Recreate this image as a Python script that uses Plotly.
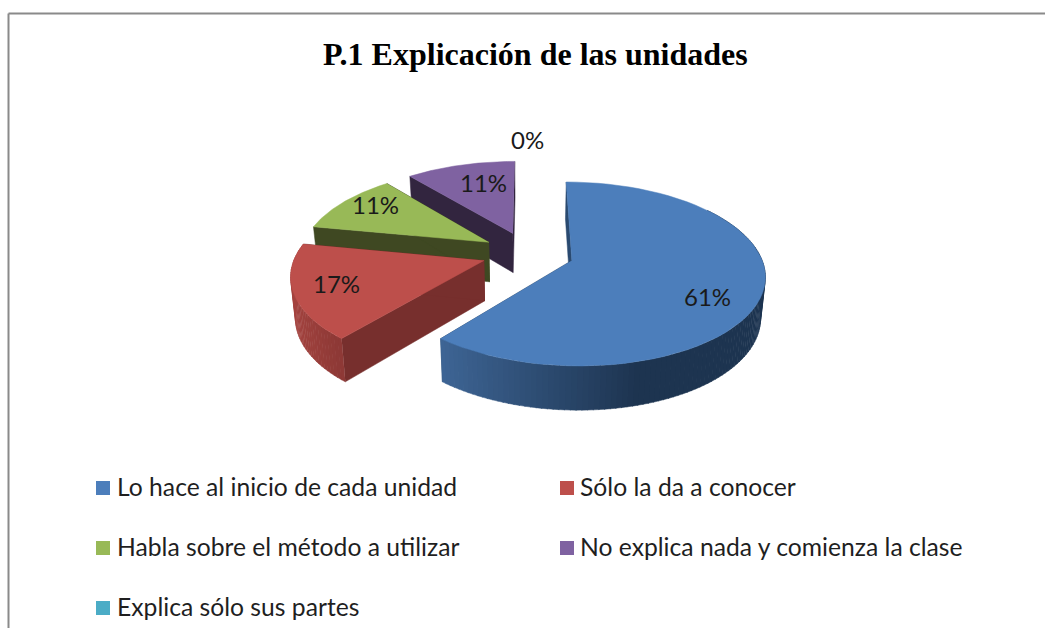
import math
import plotly.graph_objects as go

# ---- data ----
categories = ["Lo hace al inicio de cada unidad", "Sólo la da a conocer",
              "Habla sobre el método a utilizar", "No explica nada y comienza la clase",
              "Explica sólo sus partes"]
percent = [61, 17, 11, 11, 0]
title_text = "P.1 Explicación de las unidades"

# ---- styles ----
top_colors = ["#4c7ebb", "#bd4f4b", "#98b957", "#7f62a1", "#4bacc6"]
cut_colors = ["#2a4a70", "#772f2d", "#3f4822", "#32253f", "#2a6a7c"]

# ---- 3-D projection of the pie plane into the pixel-sized axes ----
CX, CY, RX, RY, K = 528.0, 253.0, 188.0, 87.8, 0.146
EXPLODE, DEPTH, SHRINK = 0.245, 40.0, 0.98


def project(u, v, low=False):
    d = 1 + K * v
    x = CX + RX * u / d
    y = CY - RY * v / d
    if low:
        x = CX + (x - CX) * SHRINK
        y = y + DEPTH / (1 + 0.6 * K * v)
    return x, y


def point(theta_deg, r, mid_deg, low=False):
    t, m = math.radians(theta_deg), math.radians(mid_deg)
    u = r * math.sin(t) + EXPLODE * math.sin(m)
    v = r * math.cos(t) + EXPLODE * math.cos(m)
    return project(u, v, low)


def polygon(fig, pts, color):
    fig.add_trace(go.Scatter(x=[p[0] for p in pts], y=[p[1] for p in pts], mode="lines",
                             fill="toself", fillcolor=color, line=dict(color=color, width=0.5),
                             hoverinfo="skip", showlegend=False))


def mix(a, b, f):
    f = max(0.0, min(1.0, f))
    return "rgb(%d,%d,%d)" % tuple(round(a[i] + (b[i] - a[i]) * f) for i in range(3))


fig = go.Figure()

# slice angle spans
total = sum(percent)
spans = []
acc = 0.0
for p in percent:
    a0 = acc / total * 360
    acc += p
    spans.append((a0, acc / total * 360))

wall_light = [(62, 101, 149), (165, 68, 64)]
wall_dark = [(29, 52, 80), (142, 57, 54)]

# back to front: last slices first
for i in [3, 2, 1, 0]:
    a0, a1 = spans[i]
    mid = (a0 + a1) / 2
    # cut walls
    for a in (a0, a1):
        polygon(fig, [point(a, 0, mid), point(a, 1, mid), point(a, 1, mid, True), point(a, 0, mid, True)],
                cut_colors[i])
    # curved outer wall with shaded strips (only the two front slices show one)
    if i <= 1:
        n = max(4, int((a1 - a0) / 1.5))
        for j in range(n):
            t0 = a0 + (a1 - a0) * j / n
            t1 = min(a0 + (a1 - a0) * (j + 1.15) / n, a1)
            if math.cos(math.radians((t0 + t1) / 2)) > 0.6:
                continue
            if i == 0:
                f = (point(t0, 1, mid)[0] - 441) / 200
                col = mix(wall_light[i], wall_dark[i], f)
            else:
                f = (point(t0, 1, mid)[0] - 338) / -50
                col = mix(wall_dark[i], wall_light[i], f)
            polygon(fig, [point(t0, 1, mid), point(t1, 1, mid), point(t1, 1, mid, True), point(t0, 1, mid, True)], col)
    # top face
    pts = [point(a0, 0, mid)]
    steps = 60
    for j in range(steps + 1):
        pts.append(point(a0 + (a1 - a0) * j / steps, 1, mid))
    polygon(fig, pts, top_colors[i])

# legend cells: swatch plus real text, placed to follow the reference's loose spacing
legend_x = [103, 567, 103, 567, 103]
legend_y = [488, 488, 548, 548, 608]
legend_text_x = [117, 580, 117, 580, 117]
annotations = []
for i, name in enumerate(categories):
    fig.add_trace(go.Scatter(x=[legend_x[i]], y=[legend_y[i]], mode="markers", name=name,
                             cliponaxis=False,
                             marker=dict(symbol="square", size=14, color=top_colors[i]),
                             hoverinfo="name", showlegend=False))
    annotations.append(dict(x=legend_text_x[i], y=legend_y[i] - 1.5, text=name, showarrow=False,
                            xref="x", yref="y", xanchor="left", xshift=-2,
                            font=dict(family="Lato", size=24.7, color="#1f1f1f")))

# percentage labels
label_pos = [(707, 296), (336, 283), (375, 204), (483, 182), (527, 139)]
annotations += [dict(x=label_pos[i][0], y=label_pos[i][1], text=f"{percent[i]}%", showarrow=False,
                     xref="x", yref="y", font=dict(family="Lato", size=24, color="#1a1a1a"))
                for i in range(len(percent))]
annotations.append(dict(x=535, y=54, text=f"<b>{title_text}</b>", showarrow=False, xref="x", yref="y",
                        font=dict(family="Liberation Serif", size=32, color="#000000")))

frame = dict(color="#8a8a8a", width=2)
fig.update_layout(
    width=1045, height=628, autosize=False,
    margin=dict(l=0, r=0, t=0, b=0),
    paper_bgcolor="#ffffff", plot_bgcolor="#ffffff",
    xaxis=dict(range=[0, 1045], visible=False, fixedrange=True),
    yaxis=dict(range=[628, 0], visible=False, fixedrange=True),
    annotations=annotations,
    shapes=[dict(type="line", x0=8.5, x1=8.5, y0=13.5, y1=628, xref="x", yref="y", line=frame),
            dict(type="line", x0=8.5, x1=1045, y0=13.5, y1=13.5, xref="x", yref="y", line=frame)],
    showlegend=False,
)
fig.write_html("out.html", config=dict(displayModeBar=False),
               post_script="document.body.style.margin='0';document.body.style.overflow='hidden';")
